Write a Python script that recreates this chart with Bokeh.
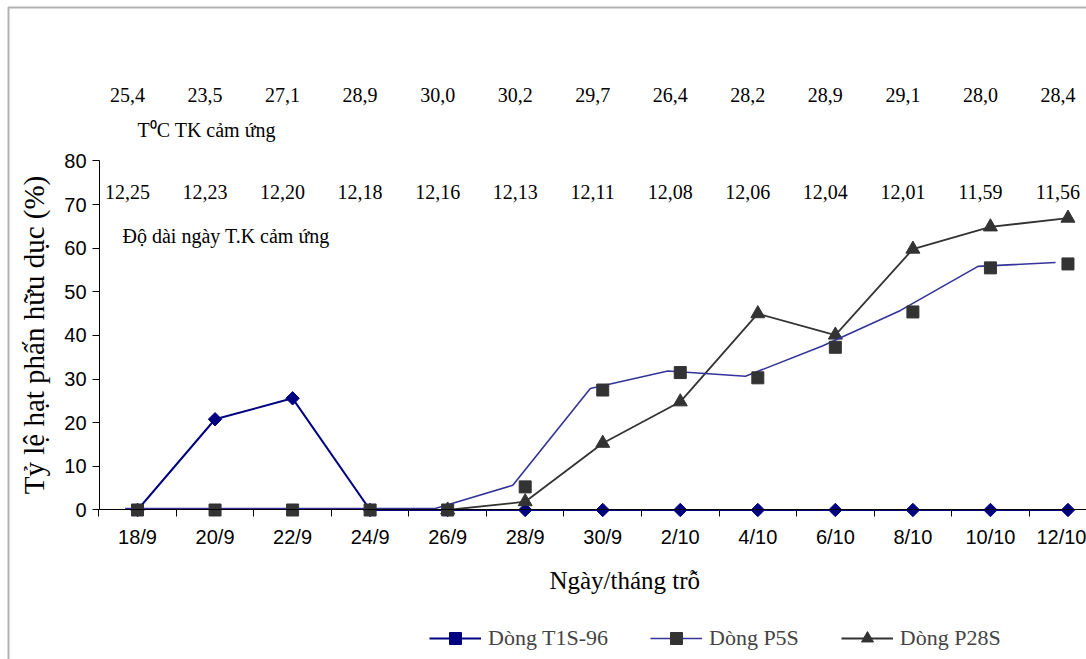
from bokeh.plotting import figure
from bokeh.models import (Range1d, FixedTicker, SingleIntervalTicker, Legend, LegendItem,
                          ColumnDataSource, BoxAnnotation)
from bokeh.transform import dodge
from bokeh.core.properties import value
from bokeh.embed import file_html
from bokeh.resources import INLINE

nan = float("nan")

# ---------------- data ----------------
dates = ["18/9", "20/9", "22/9", "24/9", "26/9", "28/9", "30/9",
         "2/10", "4/10", "6/10", "8/10", "10/10", "12/10"]
t1s_96 = [0, 20.8, 25.6, 0, 0, 0, 0, 0, 0, 0, 0, 0, 0]
p5s = [0, 0, 0, 0, 0, 5.3, 27.5, 31.5, 30.3, 37.3, 45.4, 55.5, 56.4]
p28s = [nan, nan, nan, nan, 0, 1.9, 15.3, 24.8, 45.0, 40.1, 59.8, 64.9, 66.9]
temp_labels = ["25,4", "23,5", "27,1", "28,9", "30,0", "30,2", "29,7",
               "26,4", "28,2", "28,9", "29,1", "28,0", "28,4"]
daylen_labels = ["12,25", "12,23", "12,20", "12,18", "12,16", "12,13", "12,11",
                 "12,08", "12,06", "12,04", "12,01", "11,59", "11,56"]
series_names = ["Dòng T1S-96", "Dòng P5S", "Dòng P28S"]
y_label = "Tỷ lệ hạt phấn hữu dục (%)"
x_label = "Ngày/tháng trỗ"
temp_title = "T⁰C TK cảm ứng"
daylen_title = "Độ dài ngày T.K cảm ứng"

idx = list(range(len(dates)))
mid = (len(dates) - 1) / 2
src = ColumnDataSource(dict(x=idx, t1s=t1s_96, p5s=p5s, p28s=p28s,
                            temp=temp_labels, day=daylen_labels))

SERIF = "Liberation Serif"
SANS = "Liberation Sans"

p = figure(width=1086, height=659, output_backend="svg", toolbar_location=None,
           x_range=Range1d(-1.767, 12.239), y_range=Range1d(-34.27, 116.79),
           min_border_left=0, min_border_right=0, min_border_top=0,
           min_border_bottom=0)
p.outline_line_color = None
p.grid.visible = False
p.background_fill_color = "white"
p.border_fill_color = "white"

# x axis (drawn at y = 0)
xa = p.xaxis[0]
xa.ticker = FixedTicker(ticks=idx, minor_ticks=[i - 0.5 for i in range(len(dates) + 1)])
xa.major_label_overrides = {i: d for i, d in enumerate(dates)}
xa.fixed_location = 0
xa.bounds = (-0.49, 13.06)
xa.major_tick_out = 0
xa.major_tick_in = 0
xa.minor_tick_out = 7
xa.minor_tick_in = 0
xa.major_label_standoff = 9
xa.major_label_text_font = SANS
xa.major_label_text_font_size = "20px"
xa.major_label_text_color = "black"
xa.axis_line_color = "black"
xa.minor_tick_line_color = "black"

# y axis (drawn at the left edge of the first category)
ya = p.yaxis[0]
ya.ticker = SingleIntervalTicker(interval=10, num_minor_ticks=0)
ya.fixed_location = -0.49
ya.bounds = (0, 80)
ya.major_tick_out = 7
ya.major_tick_in = 0
ya.minor_tick_out = 0
ya.minor_tick_in = 0
ya.major_label_standoff = 6
ya.major_label_text_font = SANS
ya.major_label_text_font_size = "20px"
ya.major_label_text_color = "black"
ya.axis_label = y_label
ya.axis_label_text_font = SERIF
ya.axis_label_text_font_size = "29px"
ya.axis_label_text_font_style = "normal"
ya.axis_label_text_color = "black"
ya.axis_label_standoff = 11
ya.axis_line_color = "black"
ya.major_tick_line_color = "black"

# series
c_t1s = "#000080"
c_p5s_line = "#333399"
c_dark = "#333333"

l1 = p.line("x", "t1s", source=src, line_color=c_t1s, line_width=2)
m1 = p.scatter("x", "t1s", source=src, marker="square", angle=0.785398, size=9.5,
               fill_color=c_t1s, line_color=c_t1s)

l3 = p.line("x", "p28s", source=src, line_color=c_dark, line_width=1.8)
m3 = p.scatter("x", "p28s", source=src, marker="triangle", size=14,
               fill_color=c_dark, line_color=c_dark)

l2 = p.line(dodge("x", -0.16, range=p.x_range), dodge("p5s", 0.35), source=src,
            line_color=c_p5s_line, line_width=1.6)
m2 = p.scatter("x", "p5s", source=src, marker="square", size=12,
               fill_color=c_dark, line_color=c_dark)

# x axis title
p.text(x=[mid], y=[0], text=[x_label], text_font=value(SERIF), text_font_size="25px",
       text_align="center", text_baseline="middle", text_color="black",
       x_offset=22, y_offset=71)

# annotation rows above the curves
p.text(x="x", y=95.2, text="temp", source=src, text_font=value(SERIF),
       text_font_size="20px", text_align="center", text_baseline="middle",
       text_color="black", x_offset=-10)
p.text(x="x", y=72.8, text="day", source=src, text_font=value(SERIF),
       text_font_size="20px", text_align="center", text_baseline="middle",
       text_color="black", x_offset=-10)
p.text(x=[0], y=[87.2], text=[temp_title], text_font=value(SERIF), text_font_size="20px",
       text_align="left", text_baseline="middle", text_color="black")
p.text(x=[0], y=[62.7], text=[daylen_title], text_font=value(SERIF), text_font_size="20px",
       text_align="left", text_baseline="middle", text_color="black", x_offset=-15)

# legend
legend = Legend(items=[LegendItem(label=series_names[0], renderers=[l1, m1]),
                       LegendItem(label=series_names[1], renderers=[l2, m2]),
                       LegendItem(label=series_names[2], renderers=[l3, m3])],
                orientation="horizontal", location=(429, 6), margin=0, padding=4,
                glyph_width=52, glyph_height=30, label_standoff=7, spacing=42,
                label_text_font=SERIF, label_text_font_size="22px",
                background_fill_alpha=0, border_line_color=None)
p.add_layout(legend)

# outer chart border
border = BoxAnnotation(left=8, right=1300, top=7, bottom=900,
                       left_units="canvas", right_units="canvas",
                       top_units="canvas", bottom_units="canvas",
                       fill_alpha=0, line_color="black", line_width=2)
p.add_layout(border)

open("out.html", "w").write(file_html(p, INLINE))
